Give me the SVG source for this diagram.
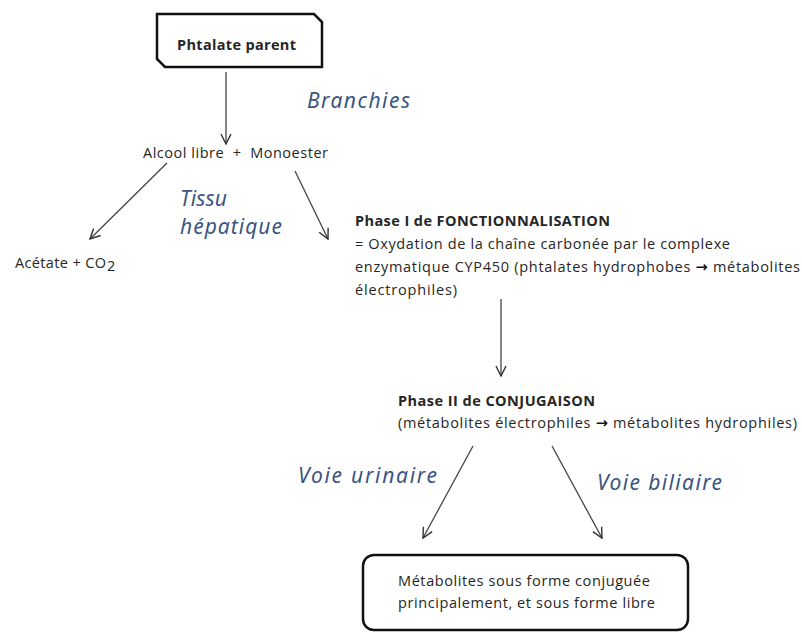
<svg xmlns="http://www.w3.org/2000/svg" width="802" height="633" viewBox="0 0 802 633">
<style>
.t{font-family:"Open Sans","Noto Sans","Liberation Sans",sans-serif;font-size:14.5px;fill:#262626}
.b{font-weight:bold}
.ar{font-family:"DejaVu Sans",sans-serif;font-weight:bold;fill:#111}
.h{font-family:"Noto Sans","DejaVu Sans",sans-serif;font-style:italic;font-size:21px;fill:#3a5583}
.c{stroke:#444;stroke-width:1.3;fill:none;marker-end:url(#ah)}
.box{fill:#fff;stroke:#111;stroke-width:2.5}
</style>
<defs>
<marker id="ah" viewBox="0 0 12 12" refX="11" refY="6" markerWidth="12" markerHeight="12" markerUnits="userSpaceOnUse" orient="auto">
<polyline points="1,1 11,6 1,11" fill="none" stroke="#333" stroke-width="1.4"/>
</marker>
</defs>
<rect width="802" height="633" fill="#fff"/>
<g id="connectors">
<line class="c" x1="226" y1="72" x2="226" y2="144"/>
<line class="c" x1="167" y1="163" x2="90" y2="239"/>
<line class="c" x1="295" y1="171" x2="328" y2="239"/>
<line class="c" x1="501" y1="299" x2="501" y2="376"/>
<line class="c" x1="473" y1="446" x2="423" y2="538"/>
<line class="c" x1="552" y1="446" x2="602" y2="538"/>
</g>
<g id="parent">
<path class="box" d="M157,14 H314 L322,22 V67 H165 L157,59 Z"/>
<text class="t b" x="177" y="50" font-size="14.5" textLength="119">Phtalate parent</text>
</g>
<g id="branchies"><text class="h" x="307" y="108" textLength="103">Branchies</text></g>
<g id="alcool"><text class="t" x="143" y="158" xml:space="preserve" textLength="185">Alcool libre  +  Monoester</text></g>
<g id="tissu"><text class="h" x="180" y="206" font-size="18" textLength="47">Tissu</text><text class="h" x="180" y="234" font-size="18" textLength="102">hépatique</text></g>
<g id="acetate"><text class="t" x="15" y="268" textLength="91">Acétate + CO</text><text class="t" x="107" y="271" font-size="9">2</text></g>
<g id="phase1">
<text class="t b" x="355" y="226" textLength="255">Phase I de FONCTIONNALISATION</text>
<text class="t" x="355" y="249" textLength="375">= Oxydation de la chaîne carbonée par le complexe</text>
<text class="t" x="355" y="272" textLength="445">enzymatique CYP450 (phtalates hydrophobes <tspan class="ar">→</tspan> métabolites</text>
<text class="t" x="355" y="295" textLength="102">électrophiles)</text>
</g>
<g id="phase2">
<text class="t b" x="398" y="406" textLength="197">Phase II de CONJUGAISON</text>
<text class="t" x="398" y="428" textLength="399">(métabolites électrophiles <tspan class="ar">→</tspan> métabolites hydrophiles)</text>
</g>
<g id="urinaire"><text class="h" x="298" y="483" textLength="139">Voie urinaire</text></g>
<g id="biliaire"><text class="h" x="597" y="490" textLength="125">Voie biliaire</text></g>
<g id="final">
<rect class="box" x="363" y="555" width="325" height="75" rx="11"/>
<text class="t" x="398" y="586" textLength="252">Métabolites sous forme conjuguée</text>
<text class="t" x="398" y="608" textLength="257">principalement, et sous forme libre</text>
</g>
</svg>
